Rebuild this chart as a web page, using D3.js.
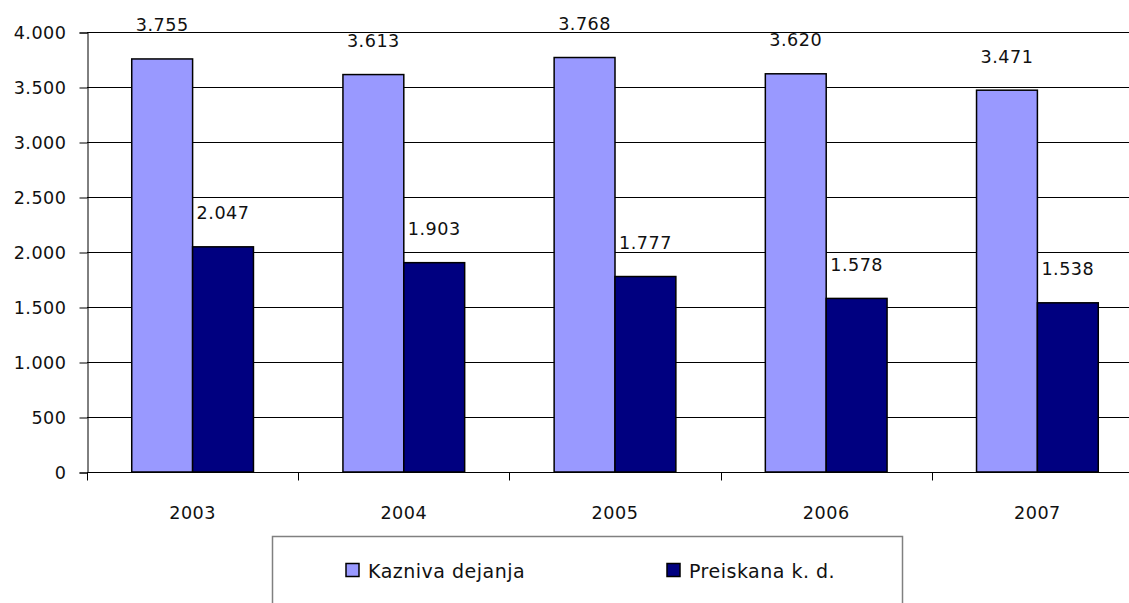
<!DOCTYPE html>
<html><head><meta charset="utf-8">
<script src="https://cdn.jsdelivr.net/npm/d3@7"></script>
<style>
html,body{margin:0;padding:0;background:#fff;}
svg{display:block;}
text{font-family:"DejaVu Sans",Verdana,sans-serif;font-size:17.6px;fill:#111;letter-spacing:0.5px;}
text.leg{font-size:19px;letter-spacing:0.5px;}
</style></head><body>
<svg id="c" width="1129" height="603"></svg>
<script>
const categories = ["2003","2004","2005","2006","2007"];
const seriesNames = ["Kazniva dejanja","Preiskana k. d."];
const kazniva = [3755, 3613, 3768, 3620, 3471];
const preiskana = [2047, 1903, 1777, 1578, 1538];
const yTicks = [0,500,1000,1500,2000,2500,3000,3500,4000];
const colors = ["#9999FF","#000080"];

const locale = d3.formatLocale({decimal:",", thousands:".", grouping:[3], currency:["","€"]});
const fmt = locale.format(",d");

const svg = d3.select("#c");
const pLeft = 87, pTop = 32, pBottom = 472, pRight = 87 + 5*211.2;

const x = d3.scaleBand().domain(categories).range([pLeft, pRight]).paddingInner(0).paddingOuter(0);
const y = d3.scaleLinear().domain([0,4000]).range([pBottom, pTop]);
const catW = x.bandwidth();
const barW = catW / 3.47;
const xs = d3.scaleBand().domain([0,1]).range([catW/2 - barW, catW/2 + barW]);

// gridlines
svg.append("g").selectAll("line").data(yTicks).join("line")
  .attr("x1", pLeft).attr("x2", pRight)
  .attr("y1", d => Math.round(y(d)) + 0.5).attr("y2", d => Math.round(y(d)) + 0.5)
  .attr("stroke", "#000").attr("stroke-width", 1);

// y axis
const yAxis = d3.axisLeft(y).tickValues(yTicks).tickSize(8).tickPadding(13).tickFormat(fmt);
const gy = svg.append("g").attr("transform", `translate(${pLeft + 0.5},0.5)`).call(yAxis);
gy.select(".domain").attr("stroke", "#000");
gy.selectAll(".tick line").attr("stroke", "#000");
gy.selectAll("text").attr("font-size", null).attr("font-family", null).attr("fill", null).attr("dy", "0.35em");

// x axis
const gx = svg.append("g").attr("transform", `translate(0,${pBottom + 0.5})`);
gx.append("line").attr("x1", pLeft).attr("x2", pRight).attr("stroke", "#000");
const xTickPos = categories.map(c => x(c)).concat([pRight]);
gx.selectAll(".xt").data(xTickPos).join("line").attr("class","xt")
  .attr("x1", d => Math.round(d) + 0.5).attr("x2", d => Math.round(d) + 0.5)
  .attr("y1", 0).attr("y2", 8).attr("stroke", "#000");
gx.selectAll(".xl").data(categories).join("text").attr("class","xl")
  .attr("x", d => x(d) + catW/2).attr("y", 46.5).attr("text-anchor","middle").text(d => d);

// bars
const series = [kazniva, preiskana];
series.forEach((vals, si) => {
  const g = svg.append("g");
  g.selectAll("rect").data(vals).join("rect")
    .attr("x", (d,i) => x(categories[i]) + xs(si))
    .attr("y", d => y(d))
    .attr("width", xs.bandwidth())
    .attr("height", d => pBottom - y(d))
    .attr("fill", colors[si]).attr("stroke", "#000").attr("stroke-width", 1.5);
  g.selectAll("text").data(vals).join("text")
    .attr("x", (d,i) => x(categories[i]) + xs(si) + xs.bandwidth()/2)
    .attr("y", d => y(d) - 27.5)
    .attr("text-anchor", "middle").text(d => fmt(d));
});

// legend
const lg = svg.append("g");
lg.append("rect").attr("x", 272.5).attr("y", 536.5).attr("width", 630).attr("height", 80)
  .attr("fill", "#fff").attr("stroke", "#808080").attr("stroke-width", 1.5);
const legX = [346, 667];
seriesNames.forEach((n, i) => {
  lg.append("rect").attr("x", legX[i]).attr("y", 563.5).attr("width", 13).attr("height", 13)
    .attr("fill", colors[i]).attr("stroke", "#000").attr("stroke-width", 1.5);
  lg.append("text").attr("class","leg").attr("x", legX[i] + 22).attr("y", 578).text(n);
});
</script>
</body></html>
